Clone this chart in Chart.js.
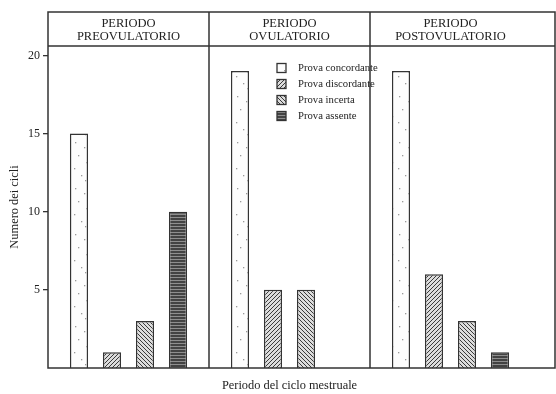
<!DOCTYPE html>
<html>
<head>
<meta charset="utf-8">
<script src="https://cdn.jsdelivr.net/npm/chart.js@4.4.0/dist/chart.umd.min.js"></script>
<style>
  html, body { margin: 0; padding: 0; background: #fff; }
</style>
</head>
<body>
<canvas id="myBarChart" width="556" height="394"></canvas>
<script>
// dati
const categories = [['PERIODO', 'PREOVULATORIO'], ['PERIODO', 'OVULATORIO'], ['PERIODO', 'POSTOVULATORIO']];
const seriesNames = ['Prova concordante', 'Prova discordante', 'Prova incerta', 'Prova assente'];
const concordante = [15, 19, 19];
const discordante = [1, 5, 6];
const incerta = [3, 5, 3];
const assente = [10, 0, 1];
const yTicks = [5, 10, 15, 20];

const serif = "'Liberation Serif', 'DejaVu Serif', serif";
const ink = '#222';

// retini per le barre
function makePattern(kind) {
  const c = document.createElement('canvas');
  const ctx = c.getContext('2d');
  if (kind === 'dots') {
    c.width = 18; c.height = 46;
    ctx.fillStyle = '#fdfdfd';
    ctx.fillRect(0, 0, 18, 46);
    ctx.fillStyle = '#9a9a9a';
    [[3, 4], [12, 9], [6, 17], [14, 24], [2, 30], [9, 37], [13, 42]].forEach(function(p) {
      ctx.fillRect(p[0], p[1], 1.3, 1.3);
    });
  } else if (kind === 'fwd' || kind === 'back') {
    c.width = 4; c.height = 4;
    ctx.fillStyle = '#dcdcdc';
    ctx.fillRect(0, 0, 4, 4);
    ctx.strokeStyle = '#3a3a3a';
    ctx.lineWidth = 1;
    ctx.beginPath();
    if (kind === 'fwd') {
      ctx.moveTo(0, 4); ctx.lineTo(4, 0);
      ctx.moveTo(-1, 1); ctx.lineTo(1, -1);
      ctx.moveTo(3, 5); ctx.lineTo(5, 3);
    } else {
      ctx.moveTo(0, 0); ctx.lineTo(4, 4);
      ctx.moveTo(-1, 3); ctx.lineTo(1, 5);
      ctx.moveTo(3, -1); ctx.lineTo(5, 1);
    }
    ctx.stroke();
  } else {
    c.width = 4; c.height = 3;
    ctx.fillStyle = '#434343';
    ctx.fillRect(0, 0, 4, 3);
    ctx.fillStyle = '#8e8e8e';
    ctx.fillRect(0, 1, 4, 1);
  }
  return document.createElement('canvas').getContext('2d').createPattern(c, 'repeat');
}

const fills = [makePattern('dots'), makePattern('fwd'), makePattern('back'), makePattern('lines')];
const values = [concordante, discordante, incerta, assente];

// cornice, intestazione e separatori dei periodi
const framePlugin = {
  id: 'frame',
  afterDraw: function(chart) {
    const ctx = chart.ctx;
    const a = chart.chartArea;
    const xs = chart.scales.x;
    const top = 12, right = a.right + 24;
    ctx.save();
    ctx.strokeStyle = '#333';
    ctx.lineWidth = 1.5;
    ctx.strokeRect(a.left, top, right - a.left, a.bottom - top);
    ctx.beginPath();
    ctx.moveTo(a.left, a.top); ctx.lineTo(right, a.top);
    for (let i = 1; i < categories.length; i++) {
      const px = (xs.getPixelForValue(i - 1) + xs.getPixelForValue(i)) / 2;
      ctx.moveTo(px, top); ctx.lineTo(px, a.bottom);
    }
    ctx.stroke();
    ctx.restore();
  }
};

// legenda dentro il pannello centrale
const legendPlugin = {
  id: 'innerLegend',
  afterDraw: function(chart) {
    const ctx = chart.ctx;
    const x0 = 277, y0 = 68, step = 16, box = 9;
    ctx.save();
    ctx.font = '10.7px ' + serif;
    ctx.textBaseline = 'middle';
    chart.data.datasets.forEach(function(ds, i) {
      const y = y0 + i * step;
      ctx.fillStyle = ds.backgroundColor;
      ctx.fillRect(x0, y - box / 2, box, box);
      ctx.strokeStyle = '#333';
      ctx.lineWidth = 1.3;
      ctx.strokeRect(x0, y - box / 2, box, box);
      ctx.fillStyle = ink;
      ctx.fillText(ds.label, x0 + 21, y);
    });
    ctx.restore();
  }
};

const ctx = document.getElementById('myBarChart').getContext('2d');
const myBarChart = new Chart(ctx, {
  type: 'bar',
  data: {
    labels: categories,
    datasets: seriesNames.map(function(name, i) {
      return {
        label: name,
        data: values[i],
        backgroundColor: fills[i],
        borderColor: '#333',
        borderWidth: 1.5,
        categoryPercentage: 0.82,
        barPercentage: 0.55,
      };
    }),
  },
  options: {
    responsive: false,
    animation: false,
    layout: { padding: { top: 12, right: 25, left: 0, bottom: 0 } },
    plugins: { legend: { display: false }, tooltip: { enabled: false } },
    scales: {
      x: {
        type: 'category',
        offset: true,
        grid: { display: false },
        border: { display: false },
        ticks: { display: false },
        title: {
          display: true,
          text: 'Periodo del ciclo mestruale',
          color: ink,
          font: { family: serif, size: 12.4 },
          padding: { top: 0, bottom: 1 },
        },
        afterFit: function(s) { s.height = 26; },
      },
      xTop: {
        type: 'category',
        position: 'top',
        offset: true,
        grid: { display: false, drawTicks: false },
        border: { display: false },
        ticks: { color: ink, padding: 3, maxRotation: 0, font: { family: serif, size: 12.5, lineHeight: 1.05 } },
        afterFit: function(s) { s.height = 34; },
      },
      y: {
        min: 0,
        max: 20.6,
        grid: { drawOnChartArea: false, drawTicks: true, tickLength: 5, color: '#333', lineWidth: 1.3 },
        border: { display: false },
        ticks: { color: ink, padding: 3, font: { family: serif, size: 12 } },
        afterBuildTicks: function(s) { s.ticks = yTicks.map(function(v) { return { value: v }; }); },
        title: {
          display: true,
          text: 'Numero dei cicli',
          color: ink,
          font: { family: serif, size: 12.4 },
          padding: { top: 7, bottom: 0 },
        },
        afterFit: function(s) { s.width = 48; },
      },
    },
  },
  plugins: [framePlugin, legendPlugin],
});
</script>
</body>
</html>
